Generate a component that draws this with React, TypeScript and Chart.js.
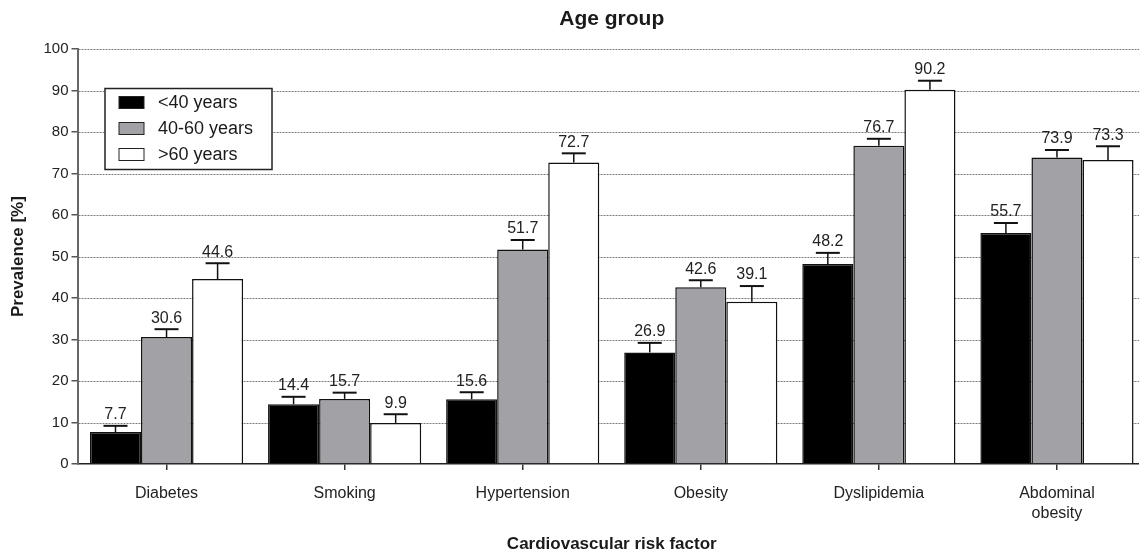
import React, { useEffect, useRef } from "react";
import { Chart, registerables } from "chart.js";

Chart.register(...registerables);

const categories: (string | string[])[] = [
  "Diabetes",
  "Smoking",
  "Hypertension",
  "Obesity",
  "Dyslipidemia",
  ["Abdominal", "obesity"],
];
const seriesNames = ["<40 years", "40-60 years", ">60 years"];
const under40 = [7.7, 14.4, 15.6, 26.9, 48.2, 55.7];
const age40to60 = [30.6, 15.7, 51.7, 42.6, 76.7, 73.9];
const over60 = [44.6, 9.9, 72.7, 39.1, 90.2, 73.3];
const errUnder40 = [1.5, 1.8, 1.7, 2.3, 2.7, 2.4];
const err40to60 = [1.9, 1.5, 2.3, 1.7, 1.7, 1.8];
const errOver60 = [3.8, 2.1, 2.2, 3.8, 2.2, 3.3];
const yTicks = [0, 10, 20, 30, 40, 50, 60, 70, 80, 90, 100];

const FONT = "'Liberation Sans', Arial, Helvetica, sans-serif";
const errors = [errUnder40, err40to60, errOver60];

const gridPlugin = {
  id: "dashGrid",
  beforeDatasetsDraw(chart: any) {
    const { ctx, chartArea, scales } = chart;
    const y = scales.y;
    ctx.save();
    ctx.strokeStyle = "#7a7a7a";
    ctx.lineWidth = 1;
    ctx.setLineDash([2, 1]);
    yTicks.forEach((v) => {
      if (v === 0) return;
      const py = Math.round(y.getPixelForValue(v)) + 0.5;
      ctx.beginPath();
      ctx.moveTo(chartArea.left + 1, py);
      ctx.lineTo(chart.width, py);
      ctx.stroke();
    });
    ctx.restore();
  },
};

const errorPlugin = {
  id: "errorBars",
  afterDatasetsDraw(chart: any) {
    const { ctx, scales } = chart;
    const y = scales.y;
    ctx.save();
    chart.data.datasets.forEach((ds: any, i: number) => {
      const meta = chart.getDatasetMeta(i);
      meta.data.forEach((el: any, j: number) => {
        const v = ds.data[j];
        const e = errors[i][j];
        const x = el.x;
        const top = y.getPixelForValue(v);
        const ey = y.getPixelForValue(v + e);
        ctx.strokeStyle = "#111";
        ctx.setLineDash([]);
        ctx.lineWidth = 1.5;
        ctx.beginPath();
        ctx.moveTo(x, top);
        ctx.lineTo(x, ey);
        ctx.stroke();
        ctx.lineWidth = 2;
        ctx.beginPath();
        ctx.moveTo(x - 12, ey);
        ctx.lineTo(x + 12, ey);
        ctx.stroke();
        ctx.fillStyle = "#222";
        ctx.font = `16px ${FONT}`;
        ctx.textAlign = "center";
        ctx.textBaseline = "bottom";
        ctx.fillText(v.toFixed(1), x, ey - 3);
      });
    });
    ctx.restore();
  },
};

const legendPlugin = {
  id: "boxLegend",
  afterDraw(chart: any) {
    const { ctx, chartArea, scales } = chart;
    const left = chartArea.left + 27.5;
    const top = Math.round(scales.y.getPixelForValue(90)) - 2.5;
    const w = 167;
    const h = 81;
    ctx.save();
    ctx.fillStyle = "#fff";
    ctx.fillRect(left, top, w, h);
    ctx.strokeStyle = "#222";
    ctx.lineWidth = 1.5;
    ctx.setLineDash([]);
    ctx.strokeRect(left, top, w, h);
    chart.data.datasets.forEach((ds: any, i: number) => {
      const cy = top + 14 + i * 26;
      ctx.fillStyle = ds.backgroundColor;
      ctx.fillRect(left + 14, cy - 6, 25, 12);
      ctx.lineWidth = 1;
      ctx.strokeStyle = "#222";
      ctx.strokeRect(left + 14, cy - 6, 25, 12);
      ctx.fillStyle = "#1a1a1a";
      ctx.font = `18px ${FONT}`;
      ctx.textAlign = "left";
      ctx.textBaseline = "middle";
      ctx.fillText(ds.label, left + 53, cy + 1);
    });
    ctx.restore();
  },
};

export default function App() {
  const ref = useRef<HTMLCanvasElement | null>(null);

  useEffect(() => {
    if (!ref.current) return;
    Chart.defaults.font.family = FONT;
    const chart = new Chart(ref.current, {
      type: "bar",
      data: {
        labels: categories as any,
        datasets: [
          { label: seriesNames[0], data: under40, backgroundColor: "#000000", borderColor: "#111", borderWidth: 1.5 },
          { label: seriesNames[1], data: age40to60, backgroundColor: "#a2a1a6", borderColor: "#111", borderWidth: 1.5 },
          { label: seriesNames[2], data: over60, backgroundColor: "#ffffff", borderColor: "#111", borderWidth: 1.5 },
        ],
      },
      options: {
        responsive: false,
        animation: false,
        devicePixelRatio: 1,
        layout: { padding: 0 },
        datasets: { bar: { barPercentage: 1, categoryPercentage: 0.86 } },
        plugins: {
          legend: { display: false },
          tooltip: { enabled: false },
          title: {
            display: true,
            text: "Age group",
            fullSize: false,
            color: "#1a1a1a",
            font: { size: 21, weight: "bold", family: FONT },
            padding: { top: 7, bottom: 17 },
          },
        },
        scales: {
          x: {
            offset: true,
            grid: { display: true, drawOnChartArea: false, drawTicks: true, tickLength: 6, tickColor: "#333", lineWidth: 1.5, offset: false },
            border: { display: true, color: "#222", width: 1.5 },
            ticks: { color: "#222", font: { size: 16, family: FONT, lineHeight: 1.25 }, padding: 14, maxRotation: 0, autoSkip: false },
            title: {
              display: true,
              text: "Cardiovascular risk factor",
              color: "#1a1a1a",
              font: { size: 17, weight: "bold", family: FONT },
              padding: { top: 0, bottom: 1 },
            },
            afterFit: (s: any) => {
              s.height = 92;
            },
          },
          y: {
            min: 0,
            max: 100,
            ticks: { stepSize: 10, color: "#222", font: { size: 15, family: FONT }, padding: 3 },
            grid: { display: true, drawOnChartArea: false, drawTicks: true, tickLength: 6, tickColor: "#555", lineWidth: 1.5 },
            border: { display: true, color: "#666", width: 2 },
            title: {
              display: true,
              text: "Prevalence [%]",
              color: "#1a1a1a",
              font: { size: 17, weight: "bold", family: FONT },
              padding: { top: 8, bottom: 0 },
            },
            afterFit: (s: any) => {
              s.width = 77.5;
            },
          },
        },
      } as any,
      plugins: [gridPlugin, errorPlugin, legendPlugin],
    });
    return () => chart.destroy();
  }, []);

  return (
    <div style={{ position: "absolute", left: 0, top: 0, width: 1139, height: 556, overflow: "hidden", background: "#fff" }}>
      <canvas ref={ref} width={1146} height={556} style={{ display: "block" }} />
    </div>
  );
}
